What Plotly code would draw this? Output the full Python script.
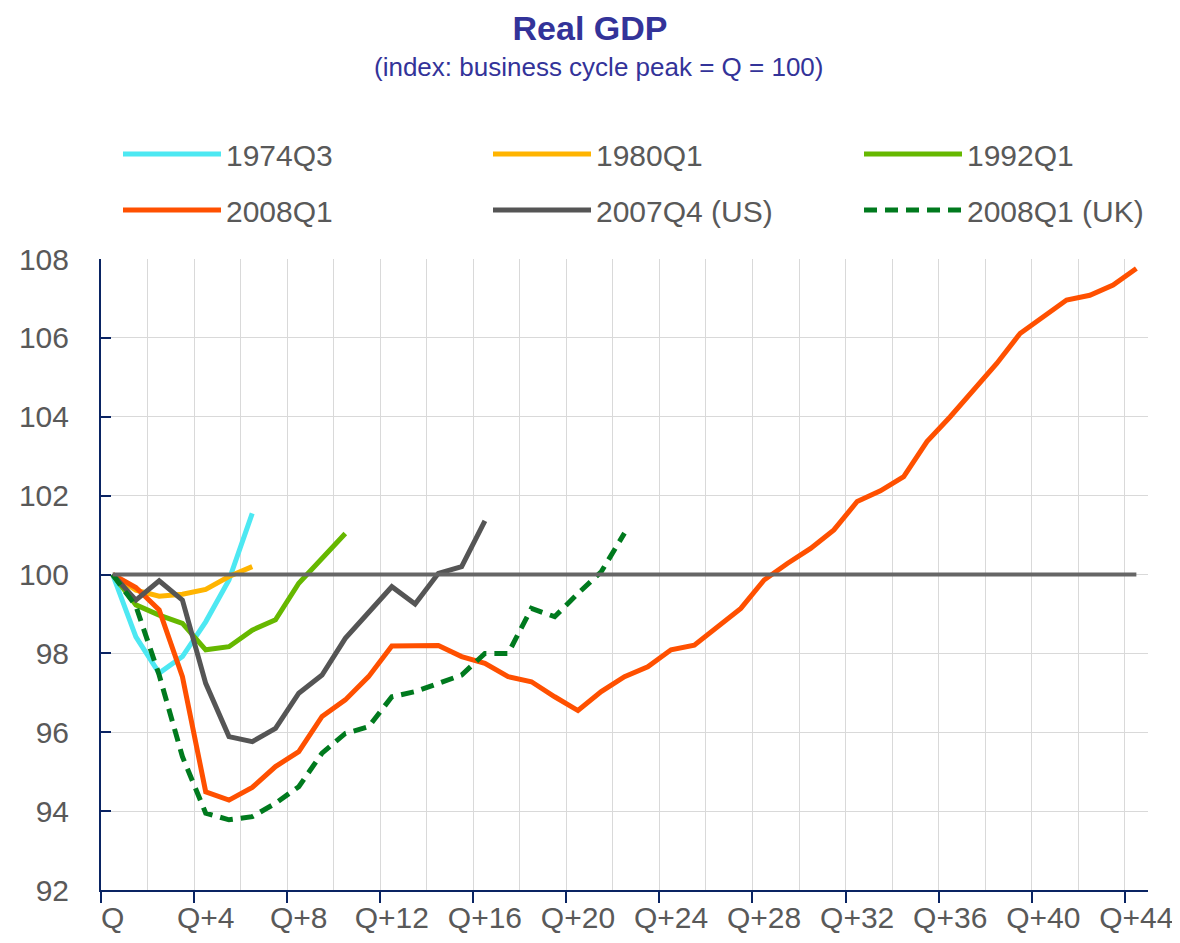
import plotly.graph_objects as go

quarters = list(range(0, 45))
tick_positions = list(range(0, 45, 4))
tick_labels = ["Q"] + [f"Q+{q}" for q in range(4, 45, 4)]

s1974 = [100, 98.42, 97.5, 97.92, 98.8, 99.86, 101.55]
s1980 = [100, 99.6, 99.45, 99.5, 99.62, 99.95, 100.2]
s1992 = [100, 99.23, 98.97, 98.76, 98.09, 98.17, 98.59, 98.85, 99.78, 100.41, 101.04]
s2008 = [100, 99.67, 99.1, 97.41, 94.49, 94.28, 94.6, 95.13, 95.51, 96.4, 96.82,
         97.41, 98.19, 98.19, 98.2, 97.92, 97.75, 97.41, 97.28, 96.9, 96.55,
         97.03, 97.41, 97.66, 98.09, 98.21, 98.68, 99.14, 99.86, 100.28, 100.66,
         101.13, 101.85, 102.12, 102.48, 103.37, 104.0, 104.68, 105.35, 106.11,
         106.53, 106.96, 107.08, 107.34, 107.76]
s2007us = [100, 99.35, 99.84, 99.35, 97.24, 95.89, 95.76, 96.1, 96.99, 97.45,
           98.38, 99.02, 99.69, 99.25, 100.03, 100.2, 101.36]
s2008uk = [100, 99.2, 97.45, 95.38, 93.95, 93.78, 93.86, 94.2, 94.62, 95.47,
           95.97, 96.14, 96.9, 97.03, 97.24, 97.45, 98.0, 98.0, 99.14, 98.93,
           99.52, 100.07, 101.05]
baseline = [100] * 45

NAVY = "#0A2463"
GRID = "#D9D9D9"
TXT = "#595959"
FONT = "Liberation Sans, Arial, sans-serif"
LW = 5

# page has an 8px body margin: lay out the figure in page pixels minus that
OFF = 8
W, H = 1180 - OFF, 943 - OFF
L, T = 101 - OFF, 259 - OFF
PW, PH = 1047, 631
R, B = W - L - PW, H - T - PH


def px_x(p):
    return (p - OFF - L) / PW


def px_y(p):
    return (T + PH - (p - OFF)) / PH


fig = go.Figure()

series = [
    ("1974Q3", s1974, "#4DE8F2", "solid", "legend"),
    ("1980Q1", s1980, "#FFB400", "solid", "legend2"),
    ("1992Q1", s1992, "#66B800", "solid", "legend3"),
    ("2008Q1", s2008, "#FF5000", "solid", "legend"),
    ("2007Q4 (US)", s2007us, "#555555", "solid", "legend2"),
    ("2008Q1 (UK)", s2008uk, "#007A1E", "13px,8px", "legend3"),
]
for name, vals, color, dash, leg in series:
    fig.add_trace(go.Scatter(
        x=quarters[:len(vals)], y=vals, mode="lines", name=name,
        line=dict(color=color, width=LW, dash=dash), legend=leg,
        legendgroup=name,
    ))

fig.add_trace(go.Scatter(
    x=quarters, y=baseline, mode="lines", name="Q = 100",
    line=dict(color="#666666", width=4), showlegend=False, xaxis="x2",
))

legend_common = dict(
    xref="paper", yref="paper", yanchor="top", xanchor="left",
    orientation="v", font=dict(family=FONT, size=30, color=TXT),
    bgcolor="rgba(0,0,0,0)", itemwidth=98, tracegroupgap=14,
)
LEG_TOP = px_y(128)
fig.update_layout(
    legend=dict(x=px_x(118), y=LEG_TOP, **legend_common),
    legend2=dict(x=px_x(488), y=LEG_TOP, **legend_common),
    legend3=dict(x=px_x(859), y=LEG_TOP, **legend_common),
)

fig.update_layout(
    width=W, height=H,
    margin=dict(l=L, r=R, t=T, b=B, autoexpand=False),
    paper_bgcolor="white", plot_bgcolor="white",
    font=dict(family=FONT, color=TXT),
    title=dict(
        text="<b>Real GDP</b>", x=(590 - OFF) / W, xanchor="center",
        yref="container", y=1 - (28 - OFF) / H, yanchor="middle",
        font=dict(family=FONT, size=34, color="#333399"),
    ),
    xaxis=dict(
        range=[-0.5, 44.5], tickmode="array", automargin=False,
        tickvals=[q - 0.5 for q in tick_positions],
        showticklabels=False, ticks="outside", ticklen=11, tickwidth=2,
        tickcolor=NAVY, showline=True, linecolor=NAVY, linewidth=2,
        showgrid=True, gridcolor=GRID, gridwidth=1, zeroline=False,
        minor=dict(tickmode="linear", tick0=-0.5, dtick=2, showgrid=True,
                   gridcolor=GRID, gridwidth=1, ticks=""),
    ),
    xaxis2=dict(
        overlaying="x", anchor="y", side="bottom", automargin=False,
        range=[-0.5, 44.5], tickmode="array", tickvals=tick_positions,
        ticktext=tick_labels, ticks="", showgrid=False, showline=False,
        zeroline=False, tickfont=dict(family=FONT, size=30, color=TXT),
        ticklabelstandoff=7,
    ),
    yaxis=dict(
        range=[92, 108], tickmode="linear", tick0=92, dtick=2, automargin=False,
        ticks="inside", ticklen=10, tickwidth=2, tickcolor=NAVY,
        showline=True, linecolor=NAVY, linewidth=2,
        showgrid=True, gridcolor=GRID, gridwidth=1, zeroline=False,
        tickfont=dict(family=FONT, size=30, color=TXT),
        ticklabelstandoff=24,
    ),
    annotations=[dict(
        text="(index: business cycle peak = Q = 100)", xref="paper", yref="paper",
        x=px_x(598), y=px_y(67), xanchor="center", yanchor="middle",
        showarrow=False, font=dict(family=FONT, size=26, color="#333399"),
    )],
)

fig.write_html("out.html")
